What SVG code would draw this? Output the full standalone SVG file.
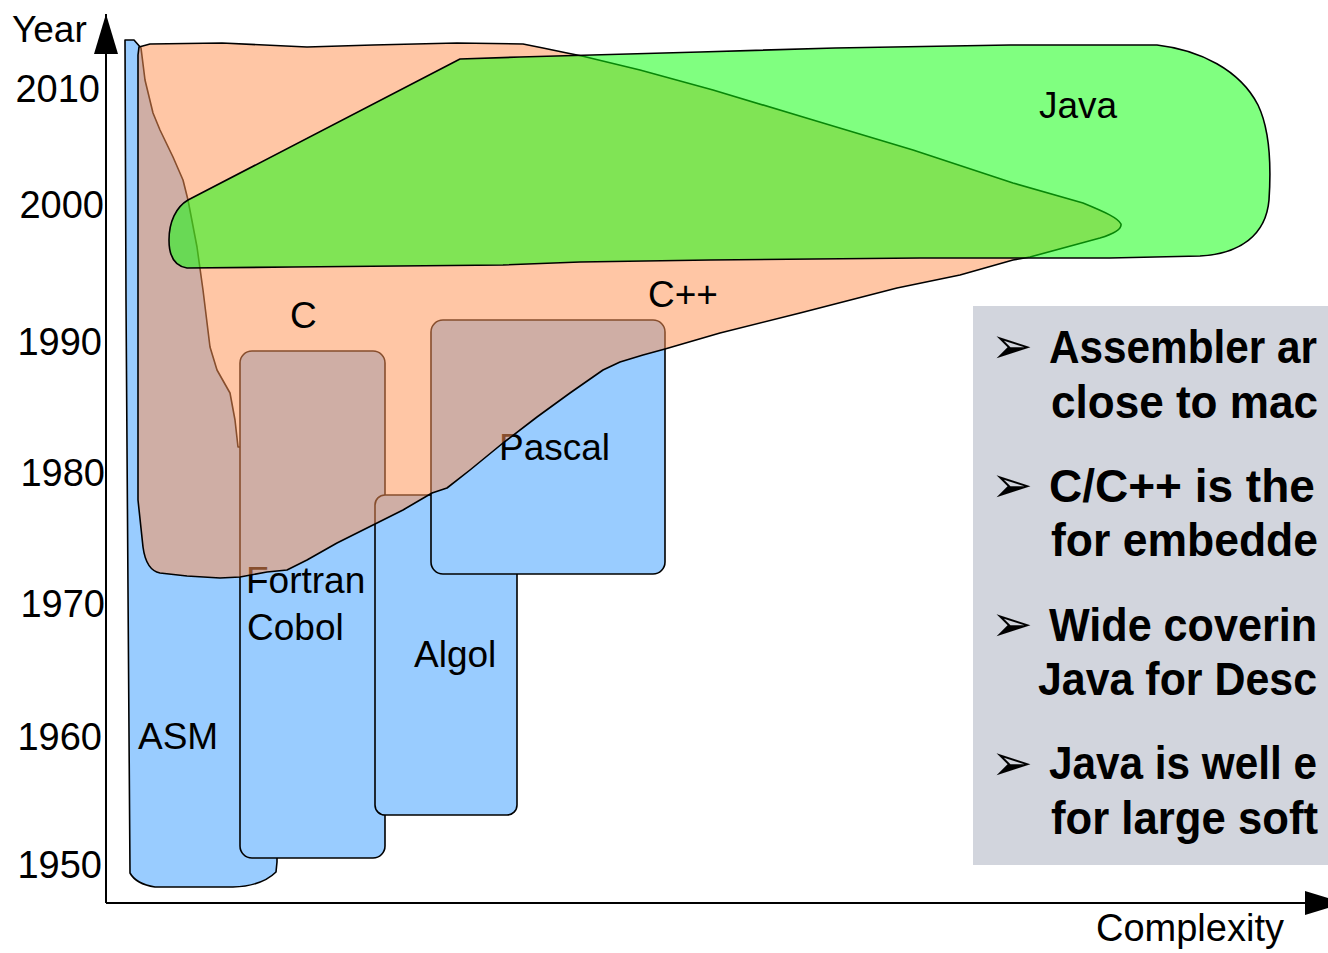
<svg xmlns="http://www.w3.org/2000/svg" width="1328" height="953" viewBox="0 0 1328 953">
<style>
  .lbl{font-family:"Liberation Sans",Arial,sans-serif;font-size:37px;fill:#000}
  .yr{font-family:"Liberation Sans",Arial,sans-serif;font-size:38px;fill:#000;text-anchor:end}
  .blue{fill:#99ccff;stroke:#000;stroke-width:1.6;stroke-linejoin:round}
  .peach{fill:rgb(255,147,85);fill-opacity:0.53;stroke:#000;stroke-width:1.6;stroke-linejoin:round}
  .java{fill:rgb(15,255,15);fill-opacity:0.53;stroke:#000;stroke-width:1.6;stroke-linejoin:round}
  .note{font-family:"Liberation Sans",Arial,sans-serif;font-size:46px;font-weight:bold;fill:#000}
  .bul{font-family:"DejaVu Sans",sans-serif;font-size:50px;fill:#000}
  .axis{stroke:#000;stroke-width:2;fill:none}
</style>
<defs>
  <marker id="arr" viewBox="0 0 40 24" refX="40" refY="12" markerWidth="40" markerHeight="24" markerUnits="userSpaceOnUse" orient="auto">
    <path d="M0,0 L40,12 L0,24 Z" fill="#000"/>
  </marker>
</defs>
<rect width="1328" height="953" fill="#fff"/>

<g id="axes">
  <path class="axis" d="M106,903 L106,14" marker-end="url(#arr)"/>
  <path class="axis" d="M106,903 L1345,903" marker-end="url(#arr)"/>
  <text class="lbl" x="12" y="42">Year</text>
  <text class="lbl" x="1096" y="941" style="font-size:38px">Complexity</text>
  <text class="yr" x="100" y="102">2010</text>
  <text class="yr" x="104" y="218">2000</text>
  <text class="yr" x="102" y="355">1990</text>
  <text class="yr" x="105" y="486">1980</text>
  <text class="yr" x="105" y="617">1970</text>
  <text class="yr" x="102" y="750">1960</text>
  <text class="yr" x="102" y="878">1950</text>
</g>

<g id="asm">
  <path class="blue" d="M125,40 L134,40 L141,48 L145,80 L153,113 L160,130 L173,157 L183,180 L188,200 L197,247 L203,290 L210,347 L217,370 L230,393 L235,420 L238,447 L277,447 L277,862 L276,872 Q262,886 233,887 L155,887 Q136,884 130,873 L128,590 L126,300 Z"/>
  <text class="lbl" x="138" y="749">ASM</text>
</g>

<g id="fortran-cobol">
  <rect class="blue" x="240" y="351" width="145" height="507" rx="12"/>
  <text class="lbl" x="246" y="593">Fortran</text>
  <text class="lbl" x="247" y="640">Cobol</text>
</g>

<g id="algol">
  <rect class="blue" x="375" y="495" width="142" height="320" rx="10"/>
  <text class="lbl" x="414" y="667">Algol</text>
</g>

<g id="pascal">
  <rect class="blue" x="431" y="320" width="234" height="254" rx="12"/>
  <text class="lbl" x="499" y="460">Pascal</text>
</g>

<g id="c-cpp">
  <path class="peach" d="M139,47 L150,44 L222,43 L307,47 L373,45 L457,43 L523,44 L543,48 L567,53 L582,56 L640,70 L713,90 L813,120 L913,150 L1013,183 L1083,203 C1105,212 1118,218 1121,224 C1122,230 1110,235 1100,238 L1030,257 L1013,260 L960,275 L897,288 L800,313 L720,333 L665,349 L643,355 L620,362 L603,370 L570,393 L537,417 L503,443 L470,470 L447,488 L432,493 L403,510 L373,525 L337,543 L307,560 L287,570 L267,572 L240,577 L220,578 L187,576 L160,573 C150,571 145,562 143,547 L138,500 L138,55 Z"/>
  <text class="lbl" x="290" y="328">C</text>
  <text class="lbl" x="648" y="307">C++</text>
</g>

<g id="java">
  <path class="java" d="M188,200 L460,59 L520,57 L700,52 L835,48 L1010,45 L1157,45 C1200,50 1240,70 1258,105 C1270,130 1271,170 1269,200 C1266,235 1240,254 1200,256 L1110,258 L920,258 L710,260 L580,262 L503,265 L293,267 L187,268 C174,266 169,255 169,240 C169,222 176,207 188,200 Z"/>
  <text class="lbl" x="1039" y="118">Java</text>
</g>

<g id="notes">
  <rect x="973" y="306" width="355" height="559" fill="#d2d5dd"/>
  <text class="bul" x="991" y="363">➢</text>
  <text class="bul" x="991" y="502">➢</text>
  <text class="bul" x="991" y="641">➢</text>
  <text class="bul" x="991" y="780">➢</text>
  <text class="note" x="1049" y="363" textLength="268" lengthAdjust="spacingAndGlyphs">Assembler ar</text>
  <text class="note" x="1051" y="418" textLength="267" lengthAdjust="spacingAndGlyphs">close to mac</text>
  <text class="note" x="1049" y="502">C/C++ is the</text>
  <text class="note" x="1051" y="556" textLength="267" lengthAdjust="spacingAndGlyphs">for embedde</text>
  <text class="note" x="1049" y="641" textLength="268" lengthAdjust="spacingAndGlyphs">Wide coverin</text>
  <text class="note" x="1038" y="695" textLength="279" lengthAdjust="spacingAndGlyphs">Java for Desc</text>
  <text class="note" x="1049" y="779" textLength="268" lengthAdjust="spacingAndGlyphs">Java is well e</text>
  <text class="note" x="1051" y="834" textLength="267" lengthAdjust="spacingAndGlyphs">for large soft</text>
</g>
</svg>
